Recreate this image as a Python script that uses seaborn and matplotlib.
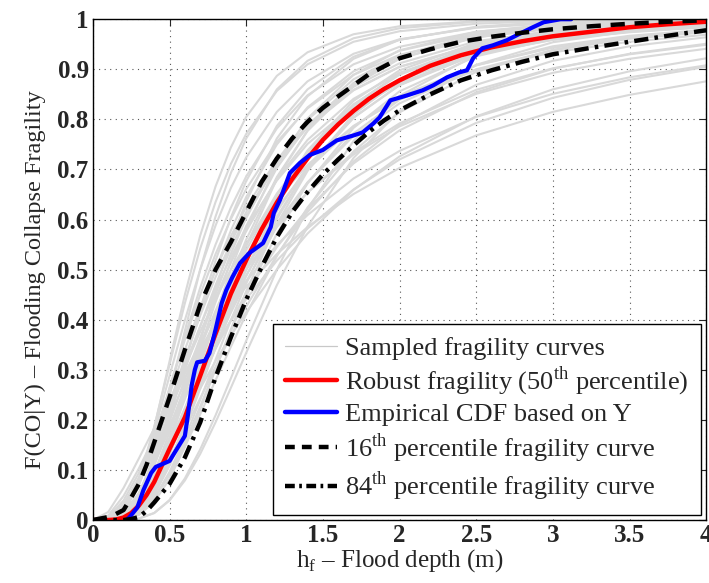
import numpy as np
import pandas as pd
import matplotlib
matplotlib.use('Agg')
from matplotlib import pyplot as plt
from matplotlib.lines import Line2D
import seaborn as sns

# common depth grid for the sampled fragility curves (m)
depth = [0, 0.1, 0.2, 0.3, 0.4, 0.5, 0.6, 0.7, 0.8, 0.9, 1.0, 1.2, 1.4, 1.7, 2.0, 2.5, 3.0, 3.5, 4.0]

# sampled fragility curves (one row per curve, values on the depth grid)
sampled_curves = [
    [0, 0.000, 0.013, 0.072, 0.184, 0.317, 0.450, 0.568, 0.666, 0.744, 0.805, 0.887, 0.934, 0.970, 0.986, 0.996, 0.998, 1.000, 1.000],
    [0, 0.000, 0.017, 0.080, 0.186, 0.310, 0.433, 0.542, 0.635, 0.711, 0.771, 0.857, 0.910, 0.955, 0.976, 0.991, 0.997, 0.999, 1.000],
    [0, 0.000, 0.006, 0.045, 0.131, 0.251, 0.378, 0.500, 0.606, 0.693, 0.762, 0.860, 0.917, 0.962, 0.982, 0.995, 0.998, 1.000, 1.000],
    [0, 0.001, 0.017, 0.073, 0.161, 0.264, 0.367, 0.464, 0.550, 0.624, 0.686, 0.782, 0.848, 0.910, 0.945, 0.975, 0.988, 0.994, 0.997],
    [0, 0.000, 0.006, 0.038, 0.108, 0.205, 0.313, 0.420, 0.518, 0.604, 0.677, 0.787, 0.860, 0.925, 0.959, 0.984, 0.994, 0.997, 0.999],
    [0, 0.001, 0.019, 0.070, 0.146, 0.233, 0.323, 0.408, 0.485, 0.554, 0.615, 0.712, 0.784, 0.858, 0.905, 0.949, 0.972, 0.984, 0.990],
    [0, 0.000, 0.006, 0.035, 0.094, 0.175, 0.267, 0.361, 0.451, 0.532, 0.603, 0.717, 0.799, 0.880, 0.927, 0.967, 0.984, 0.992, 0.996],
    [0, 0.003, 0.030, 0.085, 0.155, 0.231, 0.306, 0.376, 0.441, 0.500, 0.552, 0.640, 0.709, 0.787, 0.841, 0.899, 0.934, 0.955, 0.969],
    [0, 0.000, 0.002, 0.017, 0.059, 0.129, 0.218, 0.314, 0.410, 0.500, 0.580, 0.710, 0.802, 0.889, 0.938, 0.975, 0.990, 0.995, 0.998],
    [0, 0.000, 0.008, 0.037, 0.091, 0.162, 0.241, 0.322, 0.401, 0.473, 0.539, 0.648, 0.733, 0.823, 0.881, 0.937, 0.965, 0.980, 0.988],
    [0, 0.006, 0.039, 0.094, 0.160, 0.227, 0.293, 0.354, 0.411, 0.462, 0.509, 0.589, 0.654, 0.730, 0.786, 0.851, 0.893, 0.921, 0.941],
    [0, 0.000, 0.002, 0.017, 0.055, 0.115, 0.190, 0.274, 0.358, 0.440, 0.514, 0.641, 0.738, 0.837, 0.898, 0.953, 0.977, 0.988, 0.994],
    [0, 0.000, 0.010, 0.040, 0.091, 0.154, 0.224, 0.295, 0.364, 0.429, 0.489, 0.591, 0.674, 0.767, 0.832, 0.900, 0.938, 0.961, 0.974],
    [0, 0.009, 0.048, 0.103, 0.165, 0.226, 0.285, 0.339, 0.389, 0.435, 0.477, 0.549, 0.609, 0.682, 0.737, 0.805, 0.851, 0.884, 0.908],
    [0, 0.000, 0.001, 0.010, 0.036, 0.082, 0.146, 0.221, 0.301, 0.381, 0.457, 0.591, 0.697, 0.810, 0.880, 0.944, 0.973, 0.987, 0.993],
    [0, 0.001, 0.014, 0.048, 0.097, 0.156, 0.219, 0.281, 0.342, 0.399, 0.452, 0.545, 0.621, 0.712, 0.778, 0.854, 0.901, 0.931, 0.951],
    [0, 0.016, 0.064, 0.123, 0.183, 0.241, 0.294, 0.343, 0.388, 0.429, 0.466, 0.531, 0.585, 0.651, 0.703, 0.768, 0.815, 0.849, 0.876],
    [0, 0.000, 0.002, 0.015, 0.044, 0.090, 0.147, 0.211, 0.279, 0.346, 0.411, 0.527, 0.624, 0.736, 0.814, 0.895, 0.939, 0.964, 0.978],
    [0, 0.005, 0.033, 0.079, 0.133, 0.190, 0.247, 0.300, 0.351, 0.398, 0.441, 0.518, 0.582, 0.660, 0.720, 0.793, 0.843, 0.879, 0.905],
    [0, 0.000, 0.000, 0.003, 0.014, 0.040, 0.083, 0.141, 0.209, 0.283, 0.358, 0.500, 0.621, 0.757, 0.847, 0.929, 0.967, 0.984, 0.992],
    [0, 0.002, 0.018, 0.051, 0.098, 0.152, 0.208, 0.263, 0.317, 0.368, 0.415, 0.500, 0.572, 0.659, 0.726, 0.806, 0.860, 0.896, 0.922],
    [0, 0.000, 0.000, 0.003, 0.014, 0.039, 0.079, 0.132, 0.195, 0.264, 0.334, 0.469, 0.586, 0.723, 0.817, 0.909, 0.954, 0.976, 0.987],
    [0, 0.000, 0.003, 0.021, 0.059, 0.117, 0.188, 0.265, 0.343, 0.418, 0.487, 0.606, 0.701, 0.803, 0.869, 0.932, 0.964, 0.980, 0.989],
    [0, 0.001, 0.021, 0.072, 0.144, 0.226, 0.309, 0.387, 0.460, 0.525, 0.583, 0.678, 0.751, 0.828, 0.879, 0.931, 0.959, 0.974, 0.984],
    [0, 0.000, 0.010, 0.051, 0.124, 0.217, 0.316, 0.412, 0.500, 0.578, 0.645, 0.750, 0.824, 0.896, 0.937, 0.971, 0.986, 0.993, 0.996],
    [0, 0.000, 0.002, 0.020, 0.069, 0.150, 0.250, 0.357, 0.461, 0.555, 0.636, 0.762, 0.846, 0.921, 0.959, 0.985, 0.995, 0.998, 1.000],
    [0, 0.000, 0.012, 0.052, 0.116, 0.196, 0.281, 0.364, 0.443, 0.514, 0.577, 0.681, 0.759, 0.841, 0.893, 0.943, 0.968, 0.982, 0.989],
    [0, 0.000, 0.003, 0.021, 0.065, 0.134, 0.218, 0.309, 0.399, 0.484, 0.560, 0.685, 0.777, 0.868, 0.921, 0.965, 0.984, 0.992, 0.996],
    [0, 0.001, 0.015, 0.053, 0.112, 0.183, 0.257, 0.330, 0.400, 0.465, 0.523, 0.622, 0.700, 0.786, 0.846, 0.908, 0.943, 0.964, 0.976],
    [0, 0.000, 0.005, 0.026, 0.070, 0.132, 0.205, 0.282, 0.359, 0.433, 0.500, 0.616, 0.706, 0.804, 0.868, 0.930, 0.962, 0.978, 0.987],
    [0, 0.000, 0.006, 0.030, 0.074, 0.134, 0.202, 0.274, 0.346, 0.414, 0.476, 0.586, 0.674, 0.772, 0.839, 0.908, 0.946, 0.967, 0.979],
    [0, 0.000, 0.002, 0.014, 0.043, 0.092, 0.155, 0.227, 0.303, 0.377, 0.447, 0.572, 0.672, 0.783, 0.856, 0.926, 0.961, 0.979, 0.988],
    [0, 0.001, 0.022, 0.079, 0.165, 0.263, 0.360, 0.450, 0.531, 0.601, 0.661, 0.755, 0.822, 0.889, 0.929, 0.964, 0.981, 0.990, 0.994],
    [0, 0.001, 0.018, 0.079, 0.176, 0.288, 0.399, 0.500, 0.588, 0.663, 0.724, 0.815, 0.876, 0.931, 0.960, 0.983, 0.992, 0.996, 0.998],
    [0, 0.003, 0.029, 0.078, 0.141, 0.208, 0.274, 0.337, 0.397, 0.451, 0.500, 0.585, 0.654, 0.734, 0.792, 0.859, 0.902, 0.930, 0.949],
    [0, 0.000, 0.006, 0.028, 0.067, 0.120, 0.180, 0.243, 0.306, 0.368, 0.426, 0.529, 0.615, 0.716, 0.789, 0.869, 0.917, 0.946, 0.964],
    [0, 0.000, 0.005, 0.032, 0.087, 0.165, 0.255, 0.346, 0.435, 0.516, 0.587, 0.703, 0.788, 0.872, 0.922, 0.964, 0.983, 0.991, 0.995],
    [0, 0.000, 0.001, 0.014, 0.050, 0.113, 0.194, 0.285, 0.378, 0.467, 0.547, 0.681, 0.778, 0.873, 0.927, 0.970, 0.987, 0.994, 0.997],
    [0, 0.000, 0.004, 0.026, 0.072, 0.139, 0.217, 0.299, 0.381, 0.457, 0.527, 0.645, 0.735, 0.830, 0.889, 0.945, 0.971, 0.984, 0.991],
    [0, 0.001, 0.012, 0.050, 0.110, 0.185, 0.265, 0.343, 0.418, 0.487, 0.549, 0.652, 0.731, 0.817, 0.873, 0.929, 0.959, 0.975, 0.985],
    [0, 0.000, 0.002, 0.016, 0.051, 0.108, 0.181, 0.262, 0.345, 0.426, 0.500, 0.627, 0.726, 0.829, 0.892, 0.949, 0.975, 0.987, 0.993],
    [0, 0.000, 0.012, 0.054, 0.123, 0.209, 0.299, 0.387, 0.469, 0.543, 0.607, 0.711, 0.787, 0.865, 0.912, 0.956, 0.977, 0.987, 0.993],
    [0, 0.000, 0.002, 0.013, 0.044, 0.096, 0.163, 0.240, 0.320, 0.399, 0.472, 0.601, 0.702, 0.810, 0.879, 0.941, 0.971, 0.985, 0.992],
    [0, 0.001, 0.024, 0.081, 0.161, 0.251, 0.340, 0.424, 0.500, 0.567, 0.625, 0.719, 0.788, 0.859, 0.905, 0.948, 0.971, 0.983, 0.989],
]

# finer grid for the three summary curves
depth_fine = [0, 0.1, 0.15, 0.2, 0.25, 0.3, 0.35, 0.4, 0.5, 0.6, 0.7, 0.8, 0.9, 1.0, 1.1, 1.2, 1.3, 1.4, 1.5,
              1.6, 1.7, 1.8, 1.9, 2.0, 2.2, 2.4, 2.6, 2.8, 3.0, 3.25, 3.5, 3.75, 4.0]
robust_50 = [0, 0.000, 0.001, 0.005, 0.014, 0.029, 0.050, 0.076, 0.142, 0.205, 0.288, 0.372, 0.452, 0.519, 0.580,
             0.634, 0.681, 0.722, 0.759, 0.790, 0.817, 0.841, 0.861, 0.878, 0.907, 0.928, 0.944, 0.956, 0.966,
             0.975, 0.984, 0.990, 0.995]
pct_16 = [0, 0.006, 0.012, 0.020, 0.045, 0.072, 0.110, 0.155, 0.245, 0.340, 0.430, 0.500, 0.555, 0.615, 0.675,
          0.722, 0.762, 0.795, 0.823, 0.846, 0.868, 0.890, 0.906, 0.922, 0.940, 0.955, 0.965, 0.973, 0.980,
          0.986, 0.991, 0.995, 0.998]
pct_84 = [0, 0.000, 0.000, 0.000, 0.002, 0.006, 0.018, 0.035, 0.072, 0.125, 0.195, 0.285, 0.365, 0.440, 0.505,
          0.565, 0.615, 0.655, 0.690, 0.720, 0.748, 0.775, 0.798, 0.818, 0.850, 0.878, 0.898, 0.915, 0.930,
          0.943, 0.955, 0.967, 0.978]

# empirical CDF based on Y
ecdf_x = [0.22, 0.24, 0.29, 0.33, 0.38, 0.41, 0.50, 0.56, 0.60, 0.62, 0.645, 0.665, 0.68, 0.73, 0.76,
          0.80, 0.84, 0.87, 0.91, 0.96, 1.02, 1.11, 1.16, 1.18, 1.22, 1.285, 1.35, 1.415, 1.50, 1.59,
          1.70, 1.76, 1.83, 1.87, 1.94, 2.05, 2.15, 2.22, 2.31, 2.39, 2.44, 2.48, 2.54, 2.61, 2.70,
          2.79, 2.87, 2.94, 3.05, 3.12]
ecdf_y = [0.0, 0.006, 0.025, 0.06, 0.094, 0.106, 0.118, 0.148, 0.168, 0.21, 0.27, 0.30, 0.315, 0.318, 0.333,
          0.38, 0.433, 0.459, 0.485, 0.513, 0.533, 0.553, 0.585, 0.613, 0.639, 0.693, 0.713, 0.729, 0.739, 0.758,
          0.768, 0.774, 0.792, 0.804, 0.838, 0.848, 0.858, 0.868, 0.884, 0.894, 0.898, 0.922, 0.942, 0.948, 0.958,
          0.972, 0.984, 0.994, 1.0, 1.0]

x_ticks = [0, 0.5, 1, 1.5, 2, 2.5, 3, 3.5, 4]
x_ticklabels = ['0', '0.5', '1', '1.5', '2', '2.5', '3', '3.5', '4']
y_ticks = [0, 0.1, 0.2, 0.3, 0.4, 0.5, 0.6, 0.7, 0.8, 0.9, 1]
y_ticklabels = ['0', '0.1', '0.2', '0.3', '0.4', '0.5', '0.6', '0.7', '0.8', '0.9', '1']

sns.set_style('white')
plt.rcParams['font.family'] = ['Liberation Serif', 'DejaVu Serif']
plt.rcParams['mathtext.fontset'] = 'custom'
plt.rcParams['mathtext.rm'] = 'Liberation Serif'

gray_df = pd.DataFrame([
    {'curve': i, 'depth': d, 'F': v}
    for i, row in enumerate(sampled_curves) for d, v in zip(depth, row)
])

fig = plt.figure(figsize=(7.09, 5.83), dpi=100)
ax = fig.add_axes([0.131, 0.108, 0.865, 0.859])

sns.lineplot(data=gray_df, x='depth', y='F', units='curve', estimator=None,
             color='#d9d9d9', linewidth=1.5, ax=ax, legend=False)
sns.lineplot(x=depth_fine, y=robust_50, color='red', linewidth=3.2, ax=ax, sort=False)
sns.lineplot(x=ecdf_x, y=ecdf_y, color='blue', linewidth=3.0, ax=ax, sort=False)
sns.lineplot(x=depth_fine, y=pct_16, color='black', linewidth=3.2, ax=ax, sort=False)
ax.lines[-1].set_dashes([3.2, 2.2])
sns.lineplot(x=depth_fine, y=pct_84, color='black', linewidth=3.2, ax=ax, sort=False)
ax.lines[-1].set_dashes([3.2, 1.4, 0.8, 1.4])

ax.set_xlim(0, 4)
ax.set_ylim(0, 1)
ax.set_xticks(x_ticks)
ax.set_xticklabels(x_ticklabels, fontweight='bold', fontsize=18)
ax.set_yticks(y_ticks)
ax.set_yticklabels(y_ticklabels, fontweight='bold', fontsize=18)
ax.tick_params(direction='in', length=5, width=0.8, top=True, right=True, pad=3)
ax.grid(True, linestyle=(0, (1, 4)), color='#555555', linewidth=0.8)
for s in ax.spines.values():
    s.set_color('black')
    s.set_linewidth(1.0)

ax.set_xlabel(r'h$_{\rm f}$ – Flood depth (m)', fontsize=18, labelpad=0)
ax.set_ylabel('F(CO|Y) – Flooding Collapse Fragility', fontsize=17.5)
ax.yaxis.set_label_coords(-0.076, 0.48)

handles = [
    Line2D([], [], color='#c8c8c8', linewidth=0.9),
    Line2D([], [], color='red', linewidth=3.2),
    Line2D([], [], color='blue', linewidth=3.2),
    Line2D([], [], color='black', linewidth=3.2, dashes=[2.2, 1.6]),
    Line2D([], [], color='black', linewidth=3.2, dashes=[2.2, 1.0, 0.6, 1.0]),
]
labels = [
    'Sampled fragility curves',
    r'Robust fragility (50$^{\rm th}$ percentile)',
    'Empirical CDF based on Y',
    r'16$^{\rm th}$ percentile fragility curve',
    r'84$^{\rm th}$ percentile fragility curve',
]
leg = ax.legend(handles, labels, loc='lower right', fontsize=19, frameon=True, fancybox=False,
                edgecolor='black', framealpha=1, borderaxespad=0.2, handlelength=2.0,
                handletextpad=0.3, labelspacing=0.18, borderpad=0.45)
leg.get_frame().set_linewidth(1.0)

fig.savefig('out.png', dpi=100)
